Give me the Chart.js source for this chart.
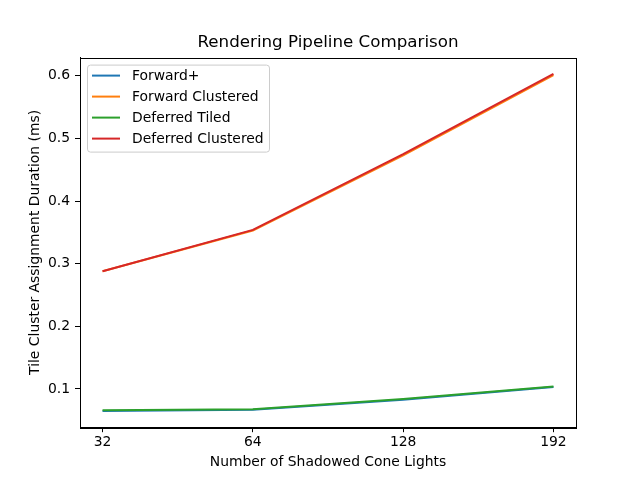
<!DOCTYPE html>
<html>
<head>
<meta charset="utf-8">
<script src="https://cdn.jsdelivr.net/npm/chart.js@4"></script>
<style>
  body { margin: 0; background: #fff; }
  canvas { display: block; }
</style>
</head>
<body>
<canvas id="chart" width="640" height="480"></canvas>
<script>
// data
const lightCounts = ['32', '64', '128', '192'];
const forwardPlus = [0.065, 0.067, 0.083, 0.103];
const forwardClustered = [0.288, 0.353, 0.473, 0.601];
const deferredTiled = [0.066, 0.0675, 0.084, 0.104];
const deferredClustered = [0.288, 0.354, 0.475, 0.603];
const yTicks = [0.1, 0.2, 0.3, 0.4, 0.5, 0.6];

const seriesNames = ['Forward+', 'Forward Clustered', 'Deferred Tiled', 'Deferred Clustered'];
const seriesValues = [forwardPlus, forwardClustered, deferredTiled, deferredClustered];
const seriesColors = ['#1f77b4', '#ff7f0e', '#2ca02c', '#d62728'];

const font = "'DejaVu Sans', sans-serif";

// frame, title and matplotlib-like legend
const extras = {
    id: 'extras',
    afterDraw(chart) {
        const c = chart.ctx;
        const a = chart.chartArea;
        c.save();
        c.strokeStyle = 'black';
        c.lineWidth = 1;
        c.strokeRect(Math.round(a.left) + 0.5, Math.round(a.top) + 0.5,
            Math.round(a.right - a.left), Math.round(a.bottom - a.top));

        // title
        c.fillStyle = 'black';
        c.font = '16.7px ' + font;
        c.textAlign = 'center';
        c.textBaseline = 'middle';
        c.fillText('Rendering Pipeline Comparison', (a.left + a.right) / 2, 43);

        // legend
        const lx = a.left + 7, ly = a.top + 7, lw = 182, lh = 87;
        c.fillStyle = 'rgba(255,255,255,0.8)';
        c.strokeStyle = '#cccccc';
        c.beginPath();
        c.roundRect(lx + 0.5, ly + 0.5, lw, lh, 3);
        c.fill();
        c.stroke();
        c.font = '13.9px ' + font;
        c.textAlign = 'left';
        seriesNames.forEach((name, i) => {
            const y = ly + 11 + i * 21;
            c.strokeStyle = seriesColors[i];
            c.lineWidth = 2;
            c.beginPath();
            c.moveTo(lx + 5, y);
            c.lineTo(lx + 33, y);
            c.stroke();
            c.fillStyle = 'black';
            c.fillText(name, lx + 45, y + 1);
        });
        c.restore();
    }
};

new Chart(document.getElementById('chart'), {
    type: 'line',
    data: {
        datasets: seriesNames.map((name, i) => ({
            label: name,
            data: seriesValues[i].map((v, j) => ({ x: j, y: v })),
            borderColor: seriesColors[i],
            backgroundColor: seriesColors[i],
            borderWidth: 2,
            pointRadius: 0,
            tension: 0,
            order: 4 - i
        }))
    },
    options: {
        responsive: false,
        animation: false,
        layout: { padding: { left: 0, right: 64, top: 57.6, bottom: 0 } },
        plugins: {
            legend: { display: false },
            tooltip: { enabled: false }
        },
        scales: {
            x: {
                type: 'linear',
                min: -0.15,
                max: 3.15,
                afterFit: s => { s.height = 52.8; },
                afterBuildTicks: s => { s.ticks = lightCounts.map((_, i) => ({ value: i })); },
                ticks: {
                    callback: v => lightCounts[v],
                    color: 'black',
                    font: { family: font, size: 13.9 },
                    padding: 2,
                    maxRotation: 0
                },
                grid: { drawOnChartArea: false, tickLength: 5, color: 'black' },
                border: { color: 'black' },
                title: {
                    display: true,
                    text: 'Number of Shadowed Cone Lights',
                    color: 'black',
                    font: { family: font, size: 13.9 },
                    padding: { top: 0, bottom: 9 }
                }
            },
            y: {
                min: 0.039,
                max: 0.629,
                afterFit: s => { s.width = 80; },
                afterBuildTicks: s => { s.ticks = yTicks.map(v => ({ value: v })); },
                ticks: {
                    callback: v => v.toFixed(1),
                    color: 'black',
                    font: { family: font, size: 13.9 },
                    padding: 5
                },
                grid: { drawOnChartArea: false, tickLength: 5, color: 'black' },
                border: { color: 'black' },
                title: {
                    display: true,
                    text: 'Tile Cluster Assignment Duration (ms)',
                    color: 'black',
                    font: { family: font, size: 13.9 },
                    padding: { top: 27, bottom: 0 }
                }
            }
        }
    },
    plugins: [extras]
});
</script>
</body>
</html>
